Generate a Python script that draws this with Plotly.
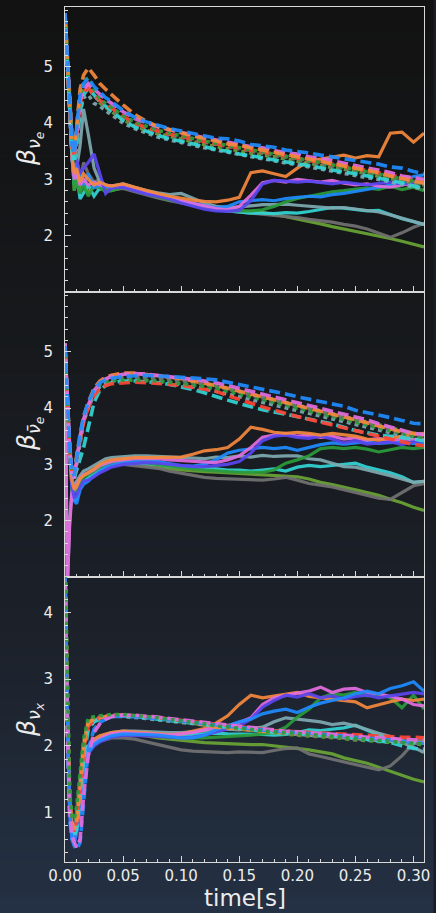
import plotly.graph_objects as go
from plotly.subplots import make_subplots

# ---------------------------------------------------------------- data
TIME = [0.000, 0.002, 0.004, 0.006, 0.008, 0.010, 0.013, 0.016, 0.020, 0.025,
        0.030, 0.035, 0.040, 0.050, 0.060, 0.070, 0.080, 0.090, 0.100, 0.110,
        0.120, 0.130, 0.140, 0.150, 0.160, 0.170, 0.180, 0.190, 0.200, 0.210,
        0.220, 0.230, 0.240, 0.250, 0.260, 0.270, 0.280, 0.290, 0.300, 0.309]

X_TICKS = [0.00, 0.05, 0.10, 0.15, 0.20, 0.25, 0.30]

# beta for nu_e : solid runs
NUE_BLUE_S = [5.90, 5.10, 4.20, 3.40, 3.00, 3.30, 3.00, 2.90, 3.10, 2.85, 2.90, 2.88, 2.85,
              2.88, 2.82, 2.76, 2.72, 2.67, 2.63, 2.58, 2.53,
              2.50, 2.52, 2.60, 2.62, 2.64, 2.62, 2.66, 2.68,
              2.70, 2.69, 2.73, 2.75, 2.78, 2.82, 2.86, 2.90,
              2.96, 3.05, 3.08]
NUE_ORANGE_S = [5.90, 5.10, 4.20, 3.40, 3.10, 3.20, 2.95, 3.10, 3.00, 2.90, 2.95, 2.90, 2.88,
                2.92, 2.86, 2.80, 2.75, 2.70, 2.66, 2.63, 2.61,
                2.60, 2.63, 2.68, 3.12, 3.15, 3.10, 3.05, 3.20,
                3.33, 3.36, 3.40, 3.43, 3.38, 3.42, 3.40, 3.82,
                3.84, 3.66, 3.82]
NUE_MAGENTA_S = [5.90, 5.10, 4.20, 3.40, 3.00, 3.10, 2.90, 3.00, 2.90, 2.95, 2.90, 2.90, 2.88,
                 2.90, 2.83, 2.77, 2.72, 2.67, 2.62, 2.57, 2.52,
                 2.48, 2.46, 2.52, 2.72, 2.94, 2.98, 2.95, 3.00,
                 2.97, 2.95, 2.98, 2.93, 2.90, 2.92, 2.88, 2.86,
                 2.90, 2.93, 2.95]
NUE_VIOLET_S = [5.90, 5.10, 4.20, 3.40, 3.40, 3.35, 3.10, 3.20, 3.30, 3.45, 3.10, 2.75, 2.85,
                2.86, 2.80, 2.74, 2.70, 2.65, 2.58, 2.52, 2.47,
                2.44, 2.43, 2.45, 2.62, 2.92, 2.98, 2.97, 2.95,
                2.97, 2.95, 2.92, 2.95, 2.93, 2.90, 2.93, 2.95,
                2.92, 2.95, 2.97]
NUE_GREEN_S = [5.90, 5.10, 4.20, 3.40, 2.80, 3.00, 2.75, 2.90, 2.70, 2.90, 2.85, 2.78, 2.80,
               2.86, 2.80, 2.74, 2.69, 2.64, 2.60, 2.55, 2.50,
               2.47, 2.45, 2.44, 2.44, 2.46, 2.52, 2.60, 2.66,
               2.70, 2.74, 2.78, 2.80, 2.83, 2.85, 2.82, 2.88,
               2.82, 2.86, 2.80]
NUE_TEAL_S = [5.90, 5.10, 4.20, 3.40, 3.00, 3.20, 3.60, 4.25, 3.80, 3.20, 2.95, 2.90, 2.88,
              2.92, 2.86, 2.80, 2.76, 2.73, 2.75, 2.66, 2.58,
              2.52, 2.50, 2.51, 2.53, 2.55, 2.55, 2.56, 2.54,
              2.52, 2.50, 2.49, 2.50, 2.47, 2.45, 2.42, 2.37,
              2.31, 2.24, 2.20]
NUE_CYAN_S = [5.90, 5.10, 4.20, 3.40, 2.90, 3.10, 2.65, 2.75, 2.90, 2.70, 2.85, 2.90, 2.85,
              2.88, 2.82, 2.76, 2.70, 2.66, 2.62, 2.57, 2.52,
              2.47, 2.44, 2.42, 2.40, 2.40, 2.39, 2.41, 2.40,
              2.43, 2.47, 2.50, 2.49, 2.46, 2.44, 2.45, 2.38,
              2.30, 2.25, 2.20]
NUE_GRAY_S = [5.90, 5.10, 4.20, 3.40, 3.00, 3.10, 2.95, 3.30, 3.10, 2.95, 3.00, 2.88, 2.82,
              2.84, 2.78, 2.72, 2.67, 2.62, 2.58, 2.53, 2.50,
              2.46, 2.44, 2.42, 2.41, 2.39, 2.37, 2.35, 2.32,
              2.29, 2.27, 2.24, 2.20, 2.17, 2.12, 2.04, 1.97,
              2.05, 2.15, 2.22]
NUE_OLIVE_S = [5.90, 5.10, 4.20, 3.40, 2.80, 3.00, 2.80, 2.95, 2.75, 2.90, 2.82, 2.85, 2.80,
               2.85, 2.80, 2.74, 2.69, 2.64, 2.60, 2.56, 2.52,
               2.48, 2.45, 2.44, 2.43, 2.41, 2.38, 2.34, 2.30,
               2.25, 2.21, 2.16, 2.12, 2.07, 2.03, 1.99, 1.95,
               1.90, 1.84, 1.80]

# beta for nu_e : dashed / dotted runs
NUE_BLUE_D = [5.95, 5.30, 4.40, 3.60, 3.45, 3.90, 4.50, 4.70, 4.80, 4.65, 4.55, 4.45, 4.38,
              4.22, 4.10, 4.02, 3.96, 3.90, 3.86, 3.82, 3.78,
              3.73, 3.72, 3.68, 3.62, 3.60, 3.57, 3.52, 3.50,
              3.47, 3.43, 3.40, 3.36, 3.33, 3.30, 3.27, 3.22,
              3.20, 3.14, 3.10]
NUE_ORANGE_D = [5.90, 5.20, 4.30, 3.60, 3.50, 4.00, 4.60, 4.85, 4.98, 4.85, 4.70, 4.60, 4.50,
                4.32, 4.15, 4.03, 3.94, 3.88, 3.82, 3.77, 3.73,
                3.68, 3.63, 3.60, 3.56, 3.52, 3.48, 3.44, 3.40,
                3.36, 3.33, 3.28, 3.24, 3.20, 3.16, 3.12, 3.06,
                3.02, 2.97, 2.93]
NUE_MAGENTA_D = [5.95, 5.25, 4.45, 3.70, 3.45, 3.85, 4.40, 4.60, 4.70, 4.60, 4.50, 4.42, 4.35,
                 4.20, 4.08, 4.00, 3.93, 3.88, 3.83, 3.79, 3.74,
                 3.70, 3.66, 3.62, 3.58, 3.56, 3.52, 3.47, 3.45,
                 3.40, 3.37, 3.33, 3.29, 3.25, 3.20, 3.16, 3.12,
                 3.06, 3.03, 3.00]
NUE_RED_D = [5.90, 5.20, 4.40, 3.60, 3.40, 3.80, 4.35, 4.55, 4.62, 4.50, 4.40, 4.33, 4.27,
             4.12, 4.00, 3.92, 3.86, 3.80, 3.76, 3.71, 3.67,
             3.63, 3.59, 3.55, 3.52, 3.48, 3.45, 3.41, 3.38,
             3.34, 3.30, 3.27, 3.23, 3.19, 3.15, 3.11, 3.07,
             3.03, 2.99, 2.96]
NUE_CYAN_D = [5.80, 5.10, 4.20, 3.50, 3.30, 3.60, 4.20, 4.50, 4.62, 4.50, 4.38, 4.30, 4.22,
              4.05, 3.93, 3.85, 3.78, 3.72, 3.68, 3.63, 3.58,
              3.53, 3.50, 3.45, 3.42, 3.38, 3.35, 3.31, 3.28,
              3.24, 3.20, 3.17, 3.13, 3.10, 3.06, 3.02, 2.98,
              2.94, 2.88, 2.85]
NUE_GREEN_D = [5.90, 5.30, 4.50, 3.80, 3.50, 3.90, 4.50, 4.75, 4.80, 4.60, 4.42, 4.35, 4.28,
               4.13, 4.02, 3.94, 3.87, 3.82, 3.77, 3.72, 3.68,
               3.64, 3.60, 3.56, 3.52, 3.48, 3.45, 3.41, 3.37,
               3.34, 3.30, 3.26, 3.22, 3.18, 3.14, 3.10, 3.05,
               3.01, 2.97, 2.93]
NUE_GRAY_D = [5.85, 5.20, 4.35, 3.65, 3.45, 3.75, 4.30, 4.55, 4.62, 4.48, 4.38, 4.30, 4.22,
              4.08, 3.97, 3.90, 3.84, 3.78, 3.74, 3.69, 3.65,
              3.61, 3.57, 3.53, 3.50, 3.46, 3.42, 3.39, 3.35,
              3.31, 3.28, 3.24, 3.20, 3.16, 3.12, 3.08, 3.04,
              3.00, 2.95, 2.92]
NUE_OLIVE_D = [5.90, 5.25, 4.40, 3.70, 3.45, 3.85, 4.40, 4.62, 4.68, 4.50, 4.36, 4.28, 4.20,
               4.06, 3.95, 3.87, 3.81, 3.76, 3.71, 3.66, 3.62,
               3.58, 3.54, 3.50, 3.47, 3.43, 3.40, 3.36, 3.32,
               3.29, 3.25, 3.21, 3.18, 3.14, 3.10, 3.06, 3.02,
               2.98, 2.93, 2.90]
NUE_TEAL_D = [5.80, 5.10, 4.25, 3.55, 3.35, 3.65, 4.20, 4.45, 4.50, 4.35, 4.30, 4.22, 4.15,
              4.00, 3.90, 3.82, 3.75, 3.70, 3.65, 3.60, 3.56,
              3.52, 3.48, 3.44, 3.40, 3.37, 3.33, 3.29, 3.26,
              3.22, 3.18, 3.15, 3.11, 3.07, 3.03, 3.00, 2.95,
              2.90, 2.86, 2.83]

# beta for anti nu_e : solid runs
ANUE_BLUE_S = [5.10, 4.00, 3.20, 2.60, 2.35, 2.30, 2.55, 2.65, 2.70, 2.80, 2.88, 2.95, 2.98,
               3.04, 3.05, 3.06, 3.05, 3.02, 2.98, 2.97, 3.00,
               3.08, 3.20, 3.25, 3.28, 3.30, 3.28, 3.30, 3.25,
               3.30, 3.35, 3.38, 3.36, 3.38, 3.40, 3.37, 3.38,
               3.40, 3.37, 3.38]
ANUE_ORANGE_S = [5.10, 4.00, 3.20, 2.70, 2.55, 2.60, 2.75, 2.80, 2.85, 2.92, 3.00, 3.05, 3.08,
                 3.10, 3.12, 3.12, 3.12, 3.12, 3.13, 3.18, 3.24,
                 3.26, 3.30, 3.45, 3.66, 3.62, 3.57, 3.55, 3.57,
                 3.55, 3.52, 3.55, 3.53, 3.50, 3.45, 3.43, 3.47,
                 3.50, 3.52, 3.55]
ANUE_MAGENTA_S = [5.15, 0.80, 1.90, 2.50, 2.60, 2.65, 2.75, 2.82, 2.85, 2.90, 2.98, 3.02, 3.05,
                  3.08, 3.10, 3.10, 3.10, 3.08, 3.07, 3.05, 3.04,
                  3.03, 3.08, 3.15, 3.30, 3.48, 3.52, 3.55, 3.50,
                  3.52, 3.48, 3.50, 3.45, 3.47, 3.43, 3.46, 3.42,
                  3.45, 3.44, 3.45]
ANUE_VIOLET_S = [5.10, 4.00, 3.20, 2.60, 2.40, 2.45, 2.60, 2.70, 2.72, 2.78, 2.85, 2.90, 2.95,
                 3.00, 3.02, 3.03, 3.02, 3.00, 2.98, 2.96, 2.96,
                 2.98, 3.00, 3.05, 3.20, 3.42, 3.50, 3.52, 3.48,
                 3.46, 3.50, 3.45, 3.38, 3.42, 3.36, 3.38, 3.40,
                 3.35, 3.40, 3.42]
ANUE_GREEN_S = [5.10, 4.00, 3.20, 2.70, 2.50, 2.55, 2.70, 2.78, 2.82, 2.88, 2.95, 2.98, 3.00,
                3.04, 3.04, 3.03, 3.00, 2.97, 2.95, 2.92, 2.90,
                2.88, 2.87, 2.86, 2.86, 2.86, 2.90, 3.02, 3.08,
                3.15, 3.28, 3.30, 3.28, 3.30, 3.27, 3.22, 3.26,
                3.30, 3.28, 3.30]
ANUE_TEAL_S = [5.15, 0.80, 2.00, 2.55, 2.65, 2.70, 2.80, 2.88, 2.92, 2.98, 3.05, 3.10, 3.12,
               3.14, 3.15, 3.15, 3.14, 3.13, 3.12, 3.10, 3.10,
               3.13, 3.12, 3.15, 3.13, 3.16, 3.14, 3.15, 3.15,
               3.10, 3.08, 3.02, 2.96, 2.95, 2.90, 2.86, 2.80,
               2.74, 2.68, 2.70]
ANUE_CYAN_S = [5.10, 4.00, 3.20, 2.60, 2.35, 2.40, 2.60, 2.70, 2.75, 2.82, 2.90, 2.95, 2.98,
               3.02, 3.03, 3.02, 3.00, 2.97, 2.95, 2.93, 2.92,
               2.92, 2.90, 2.90, 2.88, 2.90, 2.92, 2.88, 2.95,
               2.98, 2.96, 2.98, 3.00, 3.02, 2.95, 2.90, 2.85,
               2.78, 2.68, 2.70]
ANUE_GRAY_S = [5.10, 4.00, 3.20, 2.70, 2.55, 2.60, 2.72, 2.80, 2.82, 2.88, 2.95, 2.98, 3.00,
               3.00, 2.98, 2.96, 2.93, 2.88, 2.84, 2.80, 2.77,
               2.75, 2.74, 2.73, 2.72, 2.72, 2.74, 2.77, 2.72,
               2.66, 2.63, 2.60, 2.55, 2.50, 2.45, 2.40, 2.38,
               2.50, 2.62, 2.66]
ANUE_OLIVE_S = [5.10, 4.00, 3.20, 2.70, 2.50, 2.58, 2.72, 2.80, 2.85, 2.90, 2.96, 3.00, 3.02,
                3.03, 3.00, 2.98, 2.95, 2.92, 2.90, 2.88, 2.87,
                2.86, 2.85, 2.84, 2.83, 2.82, 2.80, 2.79, 2.78,
                2.74, 2.68, 2.64, 2.60, 2.55, 2.50, 2.45, 2.38,
                2.32, 2.24, 2.18]

# beta for anti nu_e : dashed / dotted runs
ANUE_BLUE_D = [5.10, 4.10, 3.30, 2.85, 2.80, 3.10, 3.55, 3.85, 4.10, 4.32, 4.45, 4.50, 4.53,
               4.56, 4.57, 4.58, 4.57, 4.56, 4.55, 4.53, 4.52,
               4.50, 4.46, 4.42, 4.38, 4.33, 4.29, 4.25, 4.20,
               4.16, 4.12, 4.08, 4.03, 3.96, 3.92, 3.87, 3.83,
               3.78, 3.73, 3.72]
ANUE_ORANGE_D = [5.10, 4.05, 3.30, 2.85, 2.80, 3.15, 3.55, 3.85, 4.10, 4.35, 4.48, 4.55, 4.58,
                 4.62, 4.62, 4.60, 4.58, 4.55, 4.52, 4.48, 4.45,
                 4.40, 4.35, 4.30, 4.25, 4.20, 4.15, 4.10, 4.05,
                 4.00, 3.95, 3.90, 3.85, 3.80, 3.74, 3.68, 3.63,
                 3.58, 3.55, 3.52]
ANUE_MAGENTA_D = [5.15, 4.10, 3.30, 2.85, 2.75, 3.05, 3.50, 3.80, 4.05, 4.30, 4.45, 4.52, 4.56,
                  4.60, 4.61, 4.60, 4.58, 4.56, 4.54, 4.51, 4.48,
                  4.45, 4.40, 4.35, 4.30, 4.25, 4.20, 4.15, 4.10,
                  4.05, 4.00, 3.95, 3.90, 3.85, 3.79, 3.72, 3.66,
                  3.60, 3.55, 3.53]
ANUE_RED_D = [5.05, 4.00, 3.25, 2.80, 2.85, 3.10, 3.45, 3.75, 4.00, 4.22, 4.34, 4.40, 4.43,
              4.45, 4.46, 4.45, 4.44, 4.42, 4.40, 4.37, 4.33,
              4.30, 4.22, 4.15, 4.08, 4.02, 3.96, 3.90, 3.85,
              3.80, 3.75, 3.70, 3.66, 3.60, 3.55, 3.50, 3.45,
              3.40, 3.35, 3.33]
ANUE_CYAN_D = [5.00, 3.90, 3.20, 2.80, 2.75, 2.90, 3.10, 3.30, 3.65, 4.10, 4.32, 4.40, 4.45,
               4.48, 4.48, 4.47, 4.45, 4.42, 4.38, 4.33, 4.27,
               4.20, 4.14, 4.08, 4.02, 3.97, 3.93, 3.89, 3.85,
               3.80, 3.76, 3.72, 3.66, 3.60, 3.56, 3.52, 3.50,
               3.48, 3.45, 3.42]
ANUE_GREEN_D = [5.10, 4.10, 3.30, 2.90, 2.80, 3.15, 3.50, 3.80, 4.05, 4.30, 4.42, 4.47, 4.50,
                4.50, 4.50, 4.49, 4.48, 4.46, 4.44, 4.41, 4.38,
                4.35, 4.30, 4.25, 4.20, 4.15, 4.10, 4.05, 4.00,
                3.95, 3.90, 3.85, 3.80, 3.75, 3.70, 3.65, 3.60,
                3.55, 3.50, 3.48]
ANUE_GRAY_D = [5.10, 4.10, 3.35, 2.90, 2.80, 3.10, 3.50, 3.80, 4.05, 4.30, 4.43, 4.50, 4.53,
               4.55, 4.55, 4.54, 4.52, 4.50, 4.48, 4.45, 4.42,
               4.38, 4.33, 4.28, 4.23, 4.18, 4.13, 4.07, 4.02,
               3.97, 3.93, 3.88, 3.83, 3.78, 3.73, 3.68, 3.62,
               3.56, 3.50, 3.48]
ANUE_OLIVE_D = [5.10, 4.10, 3.30, 2.85, 2.80, 3.10, 3.50, 3.80, 4.05, 4.30, 4.44, 4.50, 4.54,
                4.56, 4.56, 4.55, 4.54, 4.52, 4.50, 4.47, 4.44,
                4.40, 4.35, 4.30, 4.25, 4.20, 4.15, 4.10, 4.05,
                4.00, 3.95, 3.90, 3.85, 3.80, 3.75, 3.70, 3.64,
                3.60, 3.55, 3.52]
ANUE_TEAL_D = [5.05, 4.00, 3.25, 2.80, 2.75, 3.00, 3.40, 3.75, 4.00, 4.25, 4.38, 4.44, 4.48,
               4.50, 4.50, 4.49, 4.47, 4.45, 4.42, 4.38, 4.34,
               4.30, 4.25, 4.20, 4.15, 4.10, 4.05, 4.00, 3.95,
               3.90, 3.85, 3.80, 3.75, 3.70, 3.65, 3.60, 3.55,
               3.50, 3.45, 3.42]

# beta for nu_x : solid runs
NUX_BLUE_S = [4.70, 2.40, 1.00, 0.60, 0.55, 0.70, 1.10, 1.50, 1.90, 2.02, 2.08, 2.12, 2.15,
              2.18, 2.18, 2.17, 2.16, 2.14, 2.12, 2.12, 2.16,
              2.24, 2.30, 2.36, 2.40, 2.48, 2.52, 2.55, 2.50,
              2.58, 2.64, 2.68, 2.72, 2.78, 2.82, 2.78, 2.86,
              2.90, 2.96, 2.82]
NUX_ORANGE_S = [4.70, 2.50, 1.10, 0.70, 0.65, 0.80, 1.25, 1.65, 2.00, 2.10, 2.15, 2.18, 2.20,
                2.22, 2.21, 2.20, 2.18, 2.17, 2.18, 2.22, 2.26,
                2.34, 2.45, 2.62, 2.76, 2.72, 2.75, 2.78, 2.80,
                2.74, 2.72, 2.70, 2.68, 2.66, 2.57, 2.62, 2.66,
                2.70, 2.68, 2.70]
NUX_MAGENTA_S = [4.70, 2.50, 1.10, 0.70, 0.65, 0.80, 1.20, 1.60, 1.95, 2.05, 2.10, 2.15, 2.18,
                 2.20, 2.19, 2.18, 2.17, 2.16, 2.18, 2.20, 2.24,
                 2.28, 2.30, 2.35, 2.42, 2.62, 2.72, 2.76, 2.79,
                 2.82, 2.88, 2.80, 2.85, 2.86, 2.80, 2.78, 2.74,
                 2.70, 2.62, 2.60]
NUX_VIOLET_S = [4.70, 2.40, 1.00, 0.60, 0.55, 0.70, 1.10, 1.50, 1.88, 2.00, 2.06, 2.10, 2.13,
                2.16, 2.16, 2.15, 2.14, 2.13, 2.12, 2.13, 2.16,
                2.21, 2.25, 2.30, 2.40, 2.58, 2.68, 2.76, 2.73,
                2.78, 2.72, 2.75, 2.70, 2.74, 2.76, 2.72, 2.75,
                2.78, 2.80, 2.78]
NUX_GREEN_S = [4.70, 2.50, 1.10, 0.70, 0.65, 0.80, 1.20, 1.60, 1.95, 2.05, 2.10, 2.14, 2.17,
               2.19, 2.18, 2.17, 2.15, 2.13, 2.12, 2.12, 2.12,
               2.13, 2.13, 2.14, 2.16, 2.18, 2.20, 2.28, 2.43,
               2.55, 2.72, 2.78, 2.76, 2.80, 2.75, 2.78, 2.72,
               2.57, 2.76, 2.55]
NUX_TEAL_S = [4.70, 2.50, 1.10, 0.70, 0.65, 0.80, 1.20, 1.60, 1.95, 2.06, 2.12, 2.17, 2.20,
              2.22, 2.22, 2.21, 2.20, 2.20, 2.20, 2.21, 2.22,
              2.24, 2.25, 2.24, 2.26, 2.28, 2.36, 2.42, 2.40,
              2.38, 2.36, 2.32, 2.34, 2.30, 2.24, 2.19, 2.14,
              2.05, 1.98, 1.90]
NUX_CYAN_S = [4.70, 2.50, 1.10, 0.70, 0.65, 0.80, 1.20, 1.60, 1.95, 2.05, 2.10, 2.14, 2.17,
              2.19, 2.19, 2.18, 2.17, 2.16, 2.16, 2.17, 2.18,
              2.19, 2.18, 2.18, 2.17, 2.17, 2.16, 2.17, 2.20,
              2.24, 2.23, 2.25, 2.27, 2.31, 2.24, 2.16, 2.12,
              2.08, 2.04, 2.06]
NUX_GRAY_S = [4.70, 2.50, 1.10, 0.70, 0.65, 0.80, 1.20, 1.60, 1.92, 2.02, 2.07, 2.10, 2.12,
              2.12, 2.10, 2.06, 2.02, 1.98, 1.94, 1.92, 1.91,
              1.91, 1.90, 1.91, 1.90, 1.90, 1.93, 1.96, 1.97,
              1.88, 1.84, 1.80, 1.76, 1.72, 1.68, 1.64, 1.70,
              1.85, 2.04, 2.13]
NUX_OLIVE_S = [4.70, 2.50, 1.10, 0.70, 0.65, 0.80, 1.20, 1.60, 1.95, 2.05, 2.10, 2.14, 2.17,
               2.18, 2.17, 2.15, 2.12, 2.10, 2.08, 2.06, 2.05,
               2.04, 2.03, 2.03, 2.02, 2.02, 2.00, 1.98, 1.97,
               1.94, 1.91, 1.88, 1.82, 1.78, 1.74, 1.68, 1.62,
               1.56, 1.50, 1.46]

# beta for nu_x : dashed / dotted runs
NUX_BLUE_D = [4.70, 2.20, 0.90, 0.60, 0.50, 0.45, 0.55, 1.20, 1.95, 2.25, 2.35, 2.40, 2.43,
              2.45, 2.44, 2.43, 2.41, 2.39, 2.37, 2.35, 2.33,
              2.31, 2.29, 2.27, 2.25, 2.24, 2.22, 2.21, 2.20,
              2.19, 2.18, 2.16, 2.15, 2.13, 2.12, 2.10, 2.09,
              2.07, 2.05, 2.04]
NUX_ORANGE_D = [4.70, 2.50, 1.20, 0.85, 0.75, 0.85, 1.35, 2.00, 2.35, 2.40, 2.42, 2.44, 2.45,
                2.46, 2.45, 2.44, 2.42, 2.40, 2.38, 2.35, 2.32,
                2.28, 2.27, 2.25, 2.24, 2.22, 2.21, 2.20, 2.18,
                2.17, 2.16, 2.15, 2.14, 2.12, 2.11, 2.10, 2.08,
                2.07, 2.06, 2.05]
NUX_MAGENTA_D = [4.70, 2.30, 1.00, 0.65, 0.55, 0.48, 0.60, 1.25, 1.85, 2.20, 2.33, 2.40, 2.44,
                 2.46, 2.46, 2.45, 2.43, 2.41, 2.39, 2.37, 2.35,
                 2.33, 2.31, 2.29, 2.27, 2.25, 2.24, 2.22, 2.21,
                 2.20, 2.19, 2.17, 2.16, 2.15, 2.13, 2.12, 2.11,
                 2.10, 2.09, 2.08]
NUX_RED_D = [4.70, 2.50, 1.20, 0.80, 0.72, 0.85, 1.35, 1.95, 2.30, 2.38, 2.42, 2.44, 2.45,
             2.46, 2.45, 2.43, 2.42, 2.40, 2.38, 2.36, 2.34,
             2.32, 2.30, 2.28, 2.26, 2.25, 2.23, 2.22, 2.21,
             2.20, 2.19, 2.18, 2.17, 2.16, 2.15, 2.14, 2.14,
             2.13, 2.13, 2.12]
NUX_CYAN_D = [4.70, 2.40, 1.05, 0.75, 0.65, 0.75, 1.20, 1.80, 2.25, 2.36, 2.40, 2.42, 2.44,
              2.45, 2.44, 2.42, 2.40, 2.38, 2.36, 2.34, 2.32,
              2.30, 2.28, 2.26, 2.24, 2.22, 2.21, 2.20, 2.19,
              2.18, 2.16, 2.15, 2.14, 2.12, 2.10, 2.08, 2.05,
              2.00, 1.96, 1.95]
NUX_GREEN_D = [4.70, 2.70, 1.30, 0.95, 0.90, 1.10, 1.60, 2.10, 2.42, 2.44, 2.45, 2.46, 2.47,
               2.47, 2.46, 2.44, 2.42, 2.40, 2.38, 2.36, 2.33,
               2.30, 2.28, 2.26, 2.24, 2.22, 2.21, 2.20, 2.18,
               2.17, 2.16, 2.14, 2.13, 2.11, 2.10, 2.08, 2.07,
               2.05, 2.04, 2.03]
NUX_GRAY_D = [4.70, 2.60, 1.25, 0.85, 0.80, 0.95, 1.45, 2.00, 2.35, 2.40, 2.43, 2.45, 2.46,
              2.46, 2.45, 2.43, 2.41, 2.39, 2.37, 2.35, 2.32,
              2.30, 2.28, 2.26, 2.24, 2.22, 2.20, 2.19, 2.17,
              2.16, 2.15, 2.13, 2.12, 2.10, 2.09, 2.07, 2.06,
              2.05, 2.04, 2.03]
NUX_OLIVE_D = [4.70, 2.60, 1.25, 0.90, 0.82, 1.00, 1.50, 2.05, 2.38, 2.42, 2.44, 2.45, 2.46,
               2.46, 2.45, 2.43, 2.41, 2.39, 2.36, 2.34, 2.31,
               2.29, 2.27, 2.25, 2.23, 2.21, 2.19, 2.18, 2.16,
               2.15, 2.14, 2.12, 2.11, 2.09, 2.08, 2.06, 2.05,
               2.04, 2.03, 2.02]
NUX_TEAL_D = [4.70, 2.50, 1.15, 0.80, 0.70, 0.85, 1.35, 1.90, 2.30, 2.38, 2.41, 2.43, 2.44,
              2.44, 2.43, 2.41, 2.39, 2.37, 2.35, 2.33, 2.31,
              2.29, 2.27, 2.25, 2.23, 2.21, 2.20, 2.19, 2.17,
              2.16, 2.15, 2.14, 2.12, 2.11, 2.10, 2.08, 2.07,
              2.06, 2.05, 2.04]

# ---------------------------------------------------------------- styling
BLUE, ORANGE, MAGENTA, VIOLET = "#1f8cff", "#f5883d", "#e46de0", "#5a46f0"
GREEN, TEAL, CYAN, GRAY = "#2b9b3a", "#7faab1", "#33d5d5", "#727272"
OLIVE, RED = "#6aa535", "#ff4433"
DASH, DOT = "11px,5px", "4px,4px"
AXIS_COLOR = "#d8d8d8"
TEXT_COLOR = "#ececec"

# background gradient stops (fraction from top, rgb)
BG_STOPS = [(0.0, (18, 18, 18)), (0.35, (22, 24, 27)), (0.7, (28, 33, 42)), (1.0, (36, 49, 68))]

panels = [
    dict(solid=[(NUE_OLIVE_S, OLIVE), (NUE_GRAY_S, GRAY), (NUE_CYAN_S, CYAN), (NUE_TEAL_S, TEAL),
                (NUE_GREEN_S, GREEN), (NUE_BLUE_S, BLUE), (NUE_MAGENTA_S, MAGENTA),
                (NUE_VIOLET_S, VIOLET), (NUE_ORANGE_S, ORANGE)],
         dashed=[(NUE_TEAL_D, TEAL, DOT), (NUE_OLIVE_D, OLIVE, DOT), (NUE_GRAY_D, GRAY, DOT),
                 (NUE_CYAN_D, CYAN, DASH), (NUE_RED_D, RED, DASH), (NUE_GREEN_D, GREEN, DOT),
                 (NUE_MAGENTA_D, MAGENTA, DASH), (NUE_ORANGE_D, ORANGE, DASH), (NUE_BLUE_D, BLUE, DASH)],
         yrange=[1.0, 6.06], yticks=[2, 3, 4, 5],
         label="<i>β</i><sub><i>ν</i><sub><i>e</i></sub></sub>"),
    dict(solid=[(ANUE_OLIVE_S, OLIVE), (ANUE_GRAY_S, GRAY), (ANUE_CYAN_S, CYAN), (ANUE_TEAL_S, TEAL),
                (ANUE_GREEN_S, GREEN), (ANUE_BLUE_S, BLUE), (ANUE_MAGENTA_S, MAGENTA),
                (ANUE_VIOLET_S, VIOLET), (ANUE_ORANGE_S, ORANGE)],
         dashed=[(ANUE_TEAL_D, TEAL, DOT), (ANUE_OLIVE_D, OLIVE, DOT), (ANUE_GRAY_D, GRAY, DOT),
                 (ANUE_CYAN_D, CYAN, DASH), (ANUE_RED_D, RED, DASH), (ANUE_GREEN_D, GREEN, DOT),
                 (ANUE_ORANGE_D, ORANGE, DASH), (ANUE_MAGENTA_D, MAGENTA, DASH), (ANUE_BLUE_D, BLUE, DASH)],
         yrange=[1.0, 6.06], yticks=[2, 3, 4, 5],
         label="<i>β</i><sub><i>ν̄</i><sub><i>e</i></sub></sub>"),
    dict(solid=[(NUX_OLIVE_S, OLIVE), (NUX_GRAY_S, GRAY), (NUX_CYAN_S, CYAN), (NUX_TEAL_S, TEAL),
                (NUX_GREEN_S, GREEN), (NUX_ORANGE_S, ORANGE), (NUX_MAGENTA_S, MAGENTA),
                (NUX_VIOLET_S, VIOLET), (NUX_BLUE_S, BLUE)],
         dashed=[(NUX_TEAL_D, TEAL, DOT), (NUX_OLIVE_D, OLIVE, DOT), (NUX_GRAY_D, GRAY, DOT),
                 (NUX_CYAN_D, CYAN, DASH), (NUX_RED_D, RED, DASH), (NUX_ORANGE_D, ORANGE, DASH),
                 (NUX_BLUE_D, BLUE, DASH), (NUX_MAGENTA_D, MAGENTA, DASH), (NUX_GREEN_D, GREEN, DOT)],
         yrange=[0.26, 4.53], yticks=[1, 2, 3, 4],
         label="<i>β</i><sub><i>ν</i><sub><i>x</i></sub></sub>"),
]

W, H = 436, 913
ML, MR, MT, MB = 65, 6, 7, 51
PW, PH = W - ML - MR, H - MT - MB

fig = make_subplots(rows=3, cols=1, shared_xaxes=True, vertical_spacing=0)

for row, p in enumerate(panels, start=1):
    for ys, col in p["solid"]:
        fig.add_trace(go.Scatter(x=TIME, y=ys, mode="lines", showlegend=False,
                                 line=dict(color=col, width=3.2), opacity=0.92,
                                 hoverinfo="skip"), row=row, col=1)
    for ys, col, dash in p["dashed"]:
        fig.add_trace(go.Scatter(x=TIME, y=ys, mode="lines", showlegend=False,
                                 line=dict(color=col, width=3.6, dash=dash), opacity=0.92,
                                 hoverinfo="skip"), row=row, col=1)
    fig.update_yaxes(row=row, col=1, range=p["yrange"], tickvals=p["yticks"],
                     ticks="inside", ticklen=6, tickwidth=1.2, tickcolor=AXIS_COLOR,
                     minor=dict(ticks="inside", ticklen=3, tickwidth=1, dtick=0.2,
                                tick0=0, tickcolor=AXIS_COLOR),
                     showline=True, mirror=True, linecolor=AXIS_COLOR, linewidth=1.1,
                     showgrid=False, zeroline=False, ticklabelstandoff=8,
                     tickfont=dict(family="DejaVu Sans", size=15, color=TEXT_COLOR))
    yc = 1 - (row - 0.5) / 3
    fig.add_annotation(text=p["label"], xref="paper", yref="paper",
                       x=(29 - ML) / PW, y=yc, textangle=-90, showarrow=False,
                       xanchor="center", yanchor="middle",
                       font=dict(family="DejaVu Sans", size=25, color=TEXT_COLOR))

fig.update_xaxes(range=[0, 0.309], tickvals=X_TICKS, ticktext=[f"{v:.2f}" for v in X_TICKS],
                 ticks="inside", ticklen=6, tickwidth=1.2, tickcolor=AXIS_COLOR,
                 minor=dict(ticks="inside", ticklen=3, tickwidth=1, dtick=0.01, tick0=0,
                            tickcolor=AXIS_COLOR),
                 showline=True, mirror=True, linecolor=AXIS_COLOR, linewidth=1.1,
                 showgrid=False, zeroline=False, ticklabeloverflow="allow",
                 tickfont=dict(family="DejaVu Sans", size=15, color=TEXT_COLOR))

fig.add_annotation(text="time[s]", xref="paper", yref="paper",
                   x=(248 - ML) / PW, y=-(898 - (H - MB)) / PH,
                   showarrow=False, xanchor="center", yanchor="middle",
                   font=dict(family="DejaVu Sans", size=23, color=TEXT_COLOR))


def bg_color(f):
    for (f0, c0), (f1, c1) in zip(BG_STOPS[:-1], BG_STOPS[1:]):
        if f0 <= f <= f1:
            k = (f - f0) / (f1 - f0)
            return "rgb(%d,%d,%d)" % tuple(round(a + (b - a) * k) for a, b in zip(c0, c1))
    return "rgb(%d,%d,%d)" % BG_STOPS[-1][1]


# vertical background gradient, painted as thin bands behind everything
N_BANDS = 120
band_shapes = []
for i in range(N_BANDS):
    top_px = H * i / N_BANDS
    bot_px = H * (i + 1) / N_BANDS + 1
    band_shapes.append(dict(
        type="rect", xref="paper", yref="paper", layer="below",
        x0=-ML / PW - 0.01, x1=1 + MR / PW + 0.01,
        y0=(H - MB - bot_px) / PH, y1=(H - MB - top_px) / PH,
        fillcolor=bg_color((i + 0.5) / N_BANDS), line=dict(width=0)))

fig.update_layout(width=W, height=H, margin=dict(l=ML, r=MR, t=MT, b=MB),
                  paper_bgcolor="#1a1d23", plot_bgcolor="rgba(0,0,0,0)",
                  showlegend=False, shapes=band_shapes)

fig.write_html("out.html")
